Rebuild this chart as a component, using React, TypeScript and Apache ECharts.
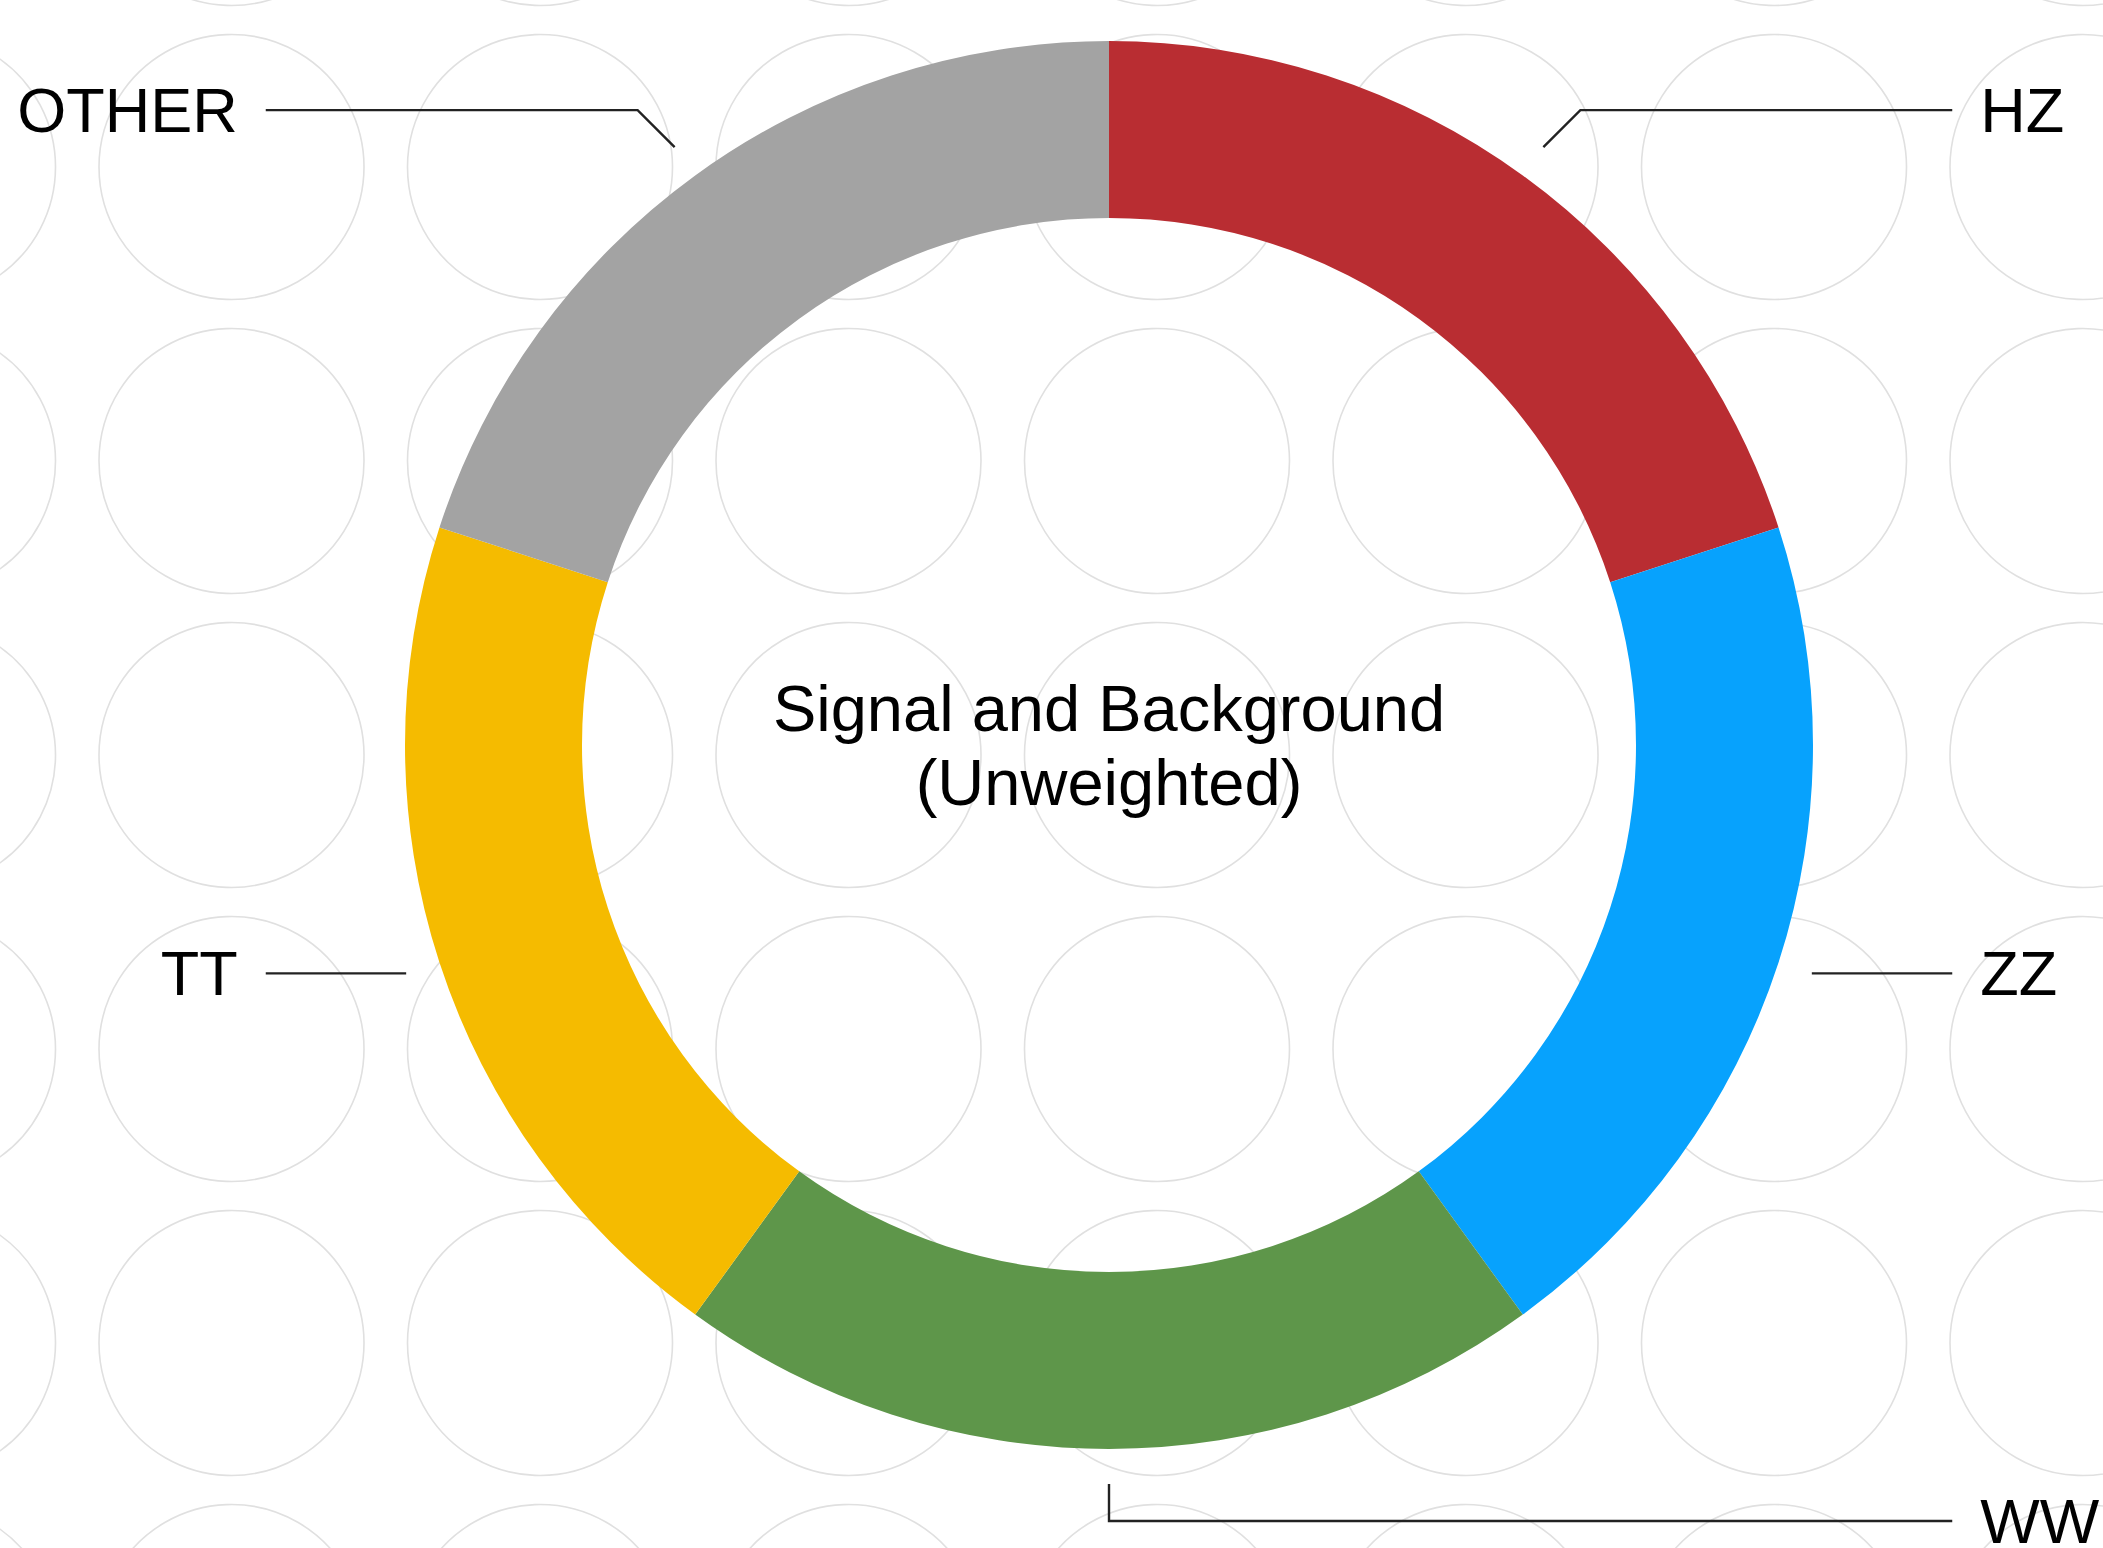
import React, { useEffect, useRef } from 'react';
import * as echarts from 'echarts';

// ---- data ----
const categories = ['HZ', 'ZZ', 'WW', 'TT', 'OTHER'];
const values = [20, 20, 20, 20, 20];
const sliceColors = ['#B92D32', '#07A2FD', '#5E964A', '#F5BB00', '#A3A3A3'];
const titleLines = ['Signal and Background', '(Unweighted)'];

// ---- layout ----
const W = 2103;
const H = 1548;
const CX = 1109;
const CY = 745;
const R_IN = 527;
const R_OUT = 704;
const LINE_GAP = 35; // label line starts this far outside the ring
const KNEE = 37;
const FONT = 'Liberation Sans, Arial, Helvetica, sans-serif';

// background pattern grid
const PAT_X0 = 231.5;
const PAT_DX = 308.5;
const PAT_Y0 = 167;
const PAT_DY = 294;
const PAT_R = 132.5;

export default function App() {
  const ref = useRef<HTMLDivElement>(null);

  useEffect(() => {
    document.body.style.margin = '0';
    document.body.style.overflow = 'hidden';
    const chart = echarts.init(ref.current as HTMLDivElement, null, { renderer: 'svg' });

    const circles: any[] = [];
    for (let j = -1; j <= 5; j++) {
      for (let k = -1; k <= 6; k++) {
        circles.push({
          type: 'circle',
          silent: true,
          z: -10,
          shape: { cx: PAT_X0 + PAT_DX * k, cy: PAT_Y0 + PAT_DY * j, r: PAT_R },
          style: { fill: 'none', stroke: '#e0e0e0', lineWidth: 1.6 },
        });
      }
    }

    const option: any = {
      animation: false,
      backgroundColor: '#ffffff',
      graphic: [
        ...circles,
        {
          type: 'text',
          silent: true,
          z: 100,
          x: CX,
          y: CY,
          style: {
            text: titleLines.join('\n'),
            fill: '#000',
            fontSize: 65,
            fontFamily: FONT,
            align: 'center',
            verticalAlign: 'middle',
            lineHeight: 74,
          },
        },
      ],
      series: [
        {
          type: 'pie',
          center: [CX, CY],
          radius: [R_IN, R_OUT],
          startAngle: 90,
          clockwise: true,
          avoidLabelOverlap: true,
          emphasis: { disabled: true },
          data: categories.map((name, i) => ({
            name,
            value: values[i],
            itemStyle: { color: sliceColors[i] },
          })),
          label: {
            show: true,
            formatter: '{b}',
            color: '#000',
            fontSize: 63,
            fontFamily: FONT,
            alignTo: 'labelLine',
            distanceToLabelLine: 28,
            bleedMargin: 0,
          },
          labelLine: {
            show: true,
            length: 47,
            length2: 129,
            lineStyle: { color: '#222', width: 2.4 },
          },
          labelLayout: (p: any) => {
            const pts = p.labelLinePoints;
            if (!pts || pts.length < 3) return {};
            const a = pts[0];
            const c = pts[2];
            let ux = a[0] - CX;
            let uy = a[1] - CY;
            const len = Math.hypot(ux, uy) || 1;
            ux /= len;
            uy /= len;
            const s = [a[0] + ux * LINE_GAP, a[1] + uy * LINE_GAP];
            const rise = Math.abs(uy) > 0.5 ? Math.sign(uy) * KNEE : 0;
            const run = Math.abs(ux) > 0.1 && rise !== 0 ? Math.sign(ux) * KNEE : 0;
            const t = [s[0] + run, s[1] + rise];
            return { y: t[1], labelLinePoints: [s, t, [c[0], t[1]]] };
          },
        },
      ],
    };

    chart.setOption(option);
    return () => chart.dispose();
  }, []);

  return <div ref={ref} style={{ width: W, height: H }} />;
}
